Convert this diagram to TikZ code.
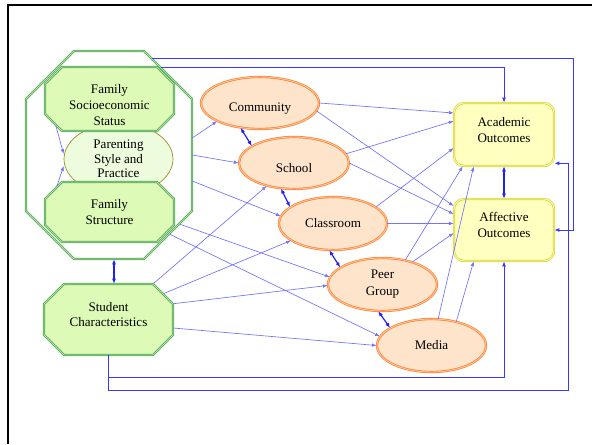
\documentclass[tikz,border=0pt]{standalone}
\usepackage{fontspec}
\setmainfont{Liberation Serif}
\usetikzlibrary{shapes.geometric,arrows.meta,calc}
\definecolor{grnline}{RGB}{86,166,86}
\definecolor{grngap}{RGB}{170,225,160}
\definecolor{grnfill}{RGB}{221,250,182}
\definecolor{parfill}{RGB}{236,252,220}
\definecolor{parline}{RGB}{150,140,30}
\definecolor{orgline}{RGB}{255,125,45}
\definecolor{orggap}{RGB}{255,195,150}
\definecolor{orgfill}{RGB}{255,228,204}
\definecolor{yelline}{RGB}{215,215,60}
\definecolor{yelgap}{RGB}{248,248,160}
\definecolor{yelfill}{RGB}{255,255,192}
\definecolor{thinblue}{RGB}{115,115,255}
\definecolor{thickblue}{RGB}{30,30,255}
\definecolor{routeblue}{RGB}{55,55,255}
\newcommand\octo[6]{\path[#6] ({#1+#5},#2) -- ({#3-#5},#2) -- (#3,{#2+#5}) -- (#3,{#4-#5}) -- ({#3-#5},#4) -- ({#1+#5},#4) -- (#1,{#4-#5}) -- (#1,{#2+#5}) -- cycle;}
\begin{document}
\begin{tikzpicture}[x=0.75pt,y=-0.75pt,
  txt/.style={font=\fontsize{9.8pt}{12pt}\selectfont, align=center},
  octline/.style={draw=grnline, double=grngap, double distance=0.7pt, line width=0.5pt},
  octfill/.style={octline, fill=grnfill},
  holder/.style={txt, rectangle, inner sep=0pt},
  ell/.style={txt, ellipse, draw=orgline, double=orggap, double distance=0.7pt, line width=0.5pt, fill=orgfill, inner sep=0pt},
  outbox/.style={txt, rectangle, rounded corners=7.5pt, draw=yelline, double=yelgap, double distance=0.7pt, line width=0.5pt, fill=yelfill, inner sep=0pt, minimum width=100*0.75pt, minimum height=63*0.75pt},
  ln/.style={draw=thinblue, line width=0.5pt, -{Latex[length=3.6pt,width=2.7pt]}, color=thinblue},
  dbl/.style={draw=thickblue, line width=0.9pt, {Latex[length=3.8pt,width=3pt]}-{Latex[length=3.8pt,width=3pt]}},
  rt/.style={draw=routeblue, line width=0.75pt, -{Latex[length=3.8pt,width=3pt]}}
]
\useasboundingbox (0,0) rectangle (592,444);
\draw[line width=1.8pt] (7.8,444) -- (7.8,4.7) -- (592,4.7);

% family group
\octo{26}{51}{192}{259}{48}{octline, fill=white}
\node[holder, minimum width=166*0.75pt, minimum height=208*0.75pt] (famout) at (109,155) {};
\node[txt, ellipse, draw=parline, line width=0.5pt, fill=parfill, inner sep=0pt,
      minimum width=109*0.75pt, minimum height=72*0.75pt,
      font=\fontsize{9.8pt}{10.9pt}\selectfont] (par) at (118.5,159) {Parenting\\Style and\\Practice};
\octo{45}{67}{174}{131}{17}{octfill}
\node[holder, minimum width=129*0.75pt, minimum height=64*0.75pt] (ses) at (109.5,99) {\rule{0pt}{15.7pt}Family\\Socioeconomic\\Status};
\octo{45}{182}{174}{242}{17}{octfill}
\node[holder, minimum width=129*0.75pt, minimum height=60*0.75pt] (struc) at (109.5,212) {Family\\Structure};

% student
\octo{44}{284}{173}{355}{20}{octfill}
\node[holder, minimum width=129*0.75pt, minimum height=71*0.75pt,
      font=\fontsize{9.8pt}{11.25pt}\selectfont] (stu) at (108.5,319.5) {Student\\Characteristics\rule[-7.5pt]{0pt}{7.5pt}};

% contexts
\node[ell, minimum width=118*0.75pt, minimum height=52*0.75pt] (com) at (260,103) {\rule{0pt}{14.2pt}Community};
\node[ell, minimum width=110*0.75pt, minimum height=52*0.75pt] (sch) at (294,163) {\rule{0pt}{14.2pt}School};
\node[ell, minimum width=108*0.75pt, minimum height=53*0.75pt] (cls) at (333,223.5) {Classroom};
\node[ell, minimum width=109*0.75pt, minimum height=53*0.75pt,
      font=\fontsize{9.8pt}{12.75pt}\selectfont] (peer) at (382.5,284.5) {Peer\\Group};
\node[ell, minimum width=109*0.75pt, minimum height=53*0.75pt] (med) at (431.5,345.5) {Media};

% outcomes
\node[outbox] (acad) at (504,134.5) {Academic\\Outcomes\rule[-6.8pt]{0pt}{6.8pt}};
\node[outbox, minimum height=62*0.75pt] (aff) at (504,230) {Affective\\Outcomes\rule[-8.2pt]{0pt}{8.2pt}};

% family internal
\draw[ln] ($(ses.south west)+(11,-6)$) -- ($(par.west)+(0,-5)$);
\draw[ln] ($(struc.north west)+(12,5)$) -- ($(par.west)+(0,7)$);

% family to contexts
\draw[ln] ($(famout.east)+(0,-17)$) -- (com.203.7);
\draw[ln] (famout.east) -- (sch.west);
\draw[ln] ($(famout.east)+(0,26)$) -- (cls.172);
\draw[ln] ($(famout.east)+(-13,69)$) -- (peer.172);
\draw[ln] ($(famout.east)+(-23,79)$) -- (med.170);

% student to contexts
\draw[ln] ($(stu.north east)+(-20,0)$) -- (sch.220);
\draw[ln] ($(stu.north east)+(-10,10)$) -- (cls.202);
\draw[ln] ($(stu.north east)+(0,20)$) -- (peer.181);
\draw[ln] ($(stu.east)+(0,8.5)$) -- (med.west);

% contexts to outcomes
\draw[ln] (com.east) -- ($(acad.west)+(0,-21.5)$);
\draw[ln] (com.-8) -- ($(aff.west)+(0,-24)$);
\draw[ln] (sch.10) -- ($(acad.west)+(0,-13.5)$);
\draw[ln] (sch.east) -- ($(aff.west)+(0,-16)$);
\draw[ln] (cls.21) -- ($(acad.west)+(0,13.5)$);
\draw[ln] (cls.east) -- ($(aff.west)+(0,-6.5)$);
\draw[ln] (peer.47) -- ($(acad.south west)+(9,0)$);
\draw[ln] (peer.37) -- ($(aff.west)+(0,3)$);
\draw[ln] (med.76) -- ($(acad.south west)+(20,0)$);
\draw[ln] (med.44) -- ($(aff.south west)+(20,0)$);

% bidirectional
\draw[dbl] (com.232) -- (sch.158);
\draw[dbl] (sch.243) -- (cls.159);
\draw[dbl] (cls.262) -- (peer.158);
\draw[dbl] (peer.261) -- (med.157);
\draw[dbl] (acad.south) -- (aff.north);
\draw[dbl] ($(famout.south)+(5,0)$) -- ($(stu.north)+(5.5,0)$);

% routed
\draw[rt] ($(famout.north east)+(-40,8)$) -- ++(421,0) |- (aff.east);
\draw[rt] ($(famout.north east)+(-31,17)$) -| (acad.north);
\draw[rt] (stu.south) -- ++(0,22) -| (aff.south);
\draw[rt] (stu.south) -- ++(0,35) -- ++(459.5,0) |- ($(acad.south east)+(0,-3)$);
\end{tikzpicture}
\end{document}
